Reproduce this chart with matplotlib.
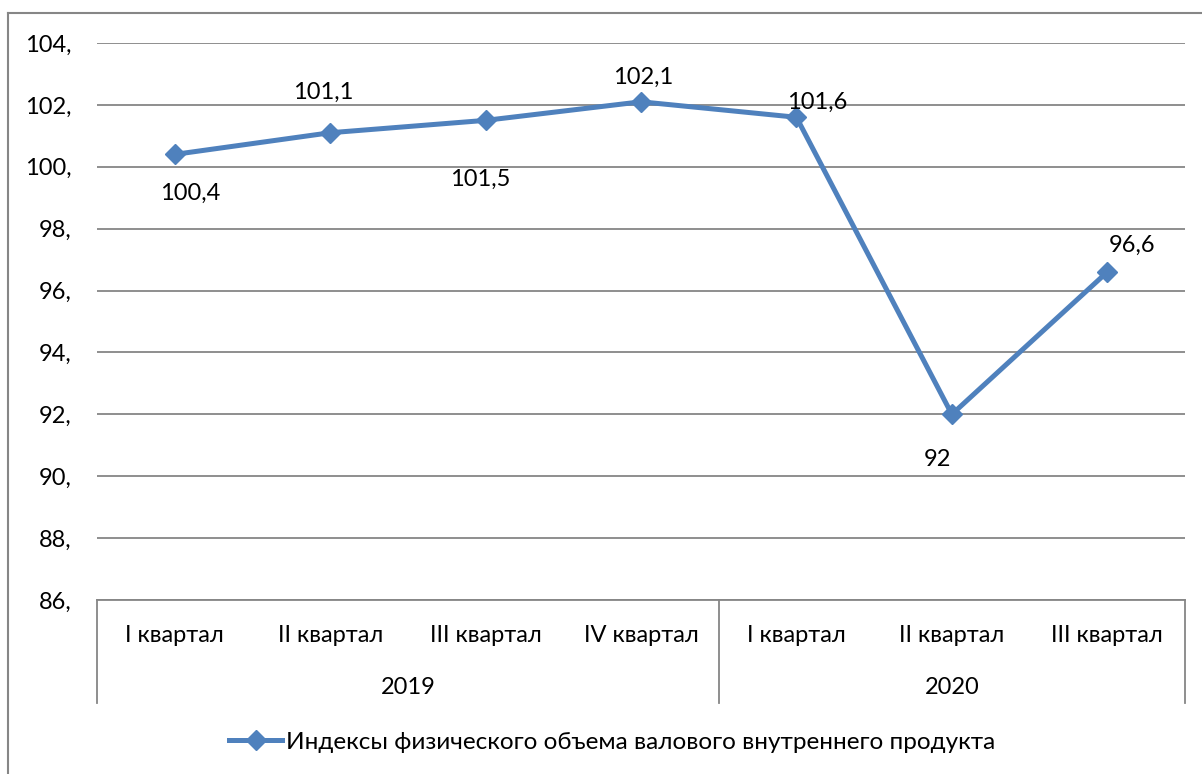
import matplotlib.pyplot as plt
from matplotlib.lines import Line2D
import matplotlib.transforms as mtransforms

quarters = ["I квартал", "II квартал", "III квартал", "IV квартал",
            "I квартал", "II квартал", "III квартал"]
years = ["2019", "2020"]
year_sizes = [4, 3]
values = [100.4, 101.1, 101.5, 102.1, 101.6, 92.0, 96.6]
value_labels = ["100,4", "101,1", "101,5", "102,1", "101,6", "92", "96,6"]
yticks = [86, 88, 90, 92, 94, 96, 98, 100, 102, 104]
series_name = "Индексы физического объема валового внутреннего продукта"

plt.rcParams['font.family'] = ['Lato', 'DejaVu Sans']
blue = "#4F81BD"
gray = "#868686"
fs = 17

fig = plt.figure(figsize=(12.02, 7.74), dpi=100)
W, H = 1202, 774
ax = fig.add_axes([97 / W, 1 - 600 / H, (1185 - 97) / W, (600 - 43) / H])

x = list(range(len(values)))
ax.plot(x, values, color=blue, lw=3.6, marker="D", markersize=10.5, zorder=3)

# data label offsets in pixels (as placed in the original chart)
label_offsets = [(15, -39), (-7, 40), (-5, -59), (2, 24), (21, 15), (-14, -45), (25, 27)]
for xi, v, lab, (dx, dy) in zip(x, values, value_labels, label_offsets):
    ax.annotate(lab, (xi, v), xytext=(dx, dy), textcoords="offset pixels",
                ha="center", va="center", fontsize=fs)

ax.set_xlim(-0.5, len(values) - 0.5)
ax.set_ylim(86, 104)
ax.set_yticks(yticks)
ax.set_yticklabels([f"{t}," for t in yticks], fontsize=fs)
ax.tick_params(axis="y", length=0, pad=18)
ax.set_xticks([])
ax.grid(axis="y", color=gray, lw=1.3)
ax.set_axisbelow(True)
for s in ["top", "right", "left"]:
    ax.spines[s].set_visible(False)
ax.spines["bottom"].set_color(gray)
ax.spines["bottom"].set_linewidth(1.3)

# multi-level category axis
trans = mtransforms.blended_transform_factory(ax.transData, ax.transAxes)
box_bottom = -(703 - 600) / (600 - 43)
for xi, q in zip(x, quarters):
    ax.text(xi, -35 / 557, q, transform=trans, ha="center", va="center", fontsize=fs)
start = -0.5
seps = [start]
for yr, n in zip(years, year_sizes):
    ax.text(start + n / 2, -88 / 557, yr, transform=trans, ha="center", va="center", fontsize=fs)
    start += n
    seps.append(start)
for sx in seps:
    ax.plot([sx, sx], [0, box_bottom], transform=trans, color=gray, lw=1.3, clip_on=False)

# legend
handle = Line2D([], [], color=blue, lw=3.6, marker="D", markersize=10.5)
fig.legend([handle], [series_name], loc="center", bbox_to_anchor=(612 / W, 1 - 742 / H),
           frameon=False, fontsize=17.5, handlelength=2.2, handletextpad=0.15)

# outer chart frame
fig.add_artist(Line2D([7.5 / W, 7.5 / W], [0, 1 - 13 / H], color=gray, lw=1.5))
fig.add_artist(Line2D([7.5 / W, 1], [1 - 13 / H, 1 - 13 / H], color=gray, lw=1.5))

fig.savefig("out.png", dpi=100)
